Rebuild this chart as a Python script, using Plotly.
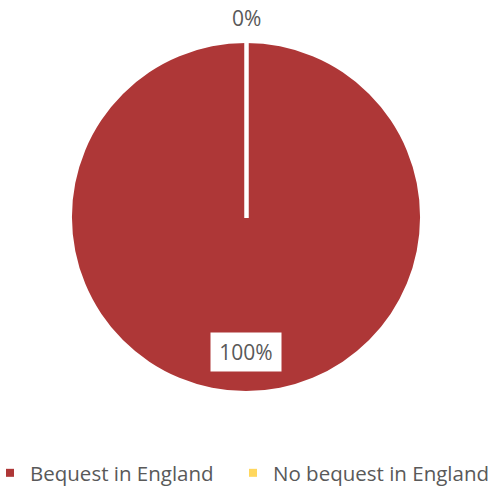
import plotly.graph_objects as go

# Share of estates by bequest destination
categories = ["Bequest in England", "No bequest in England"]
values = [100, 0]
colors = ["#AE3737", "#FFD75E"]

total = sum(values)
percents = [round(v / total * 100) for v in values]

W, H = 493, 486
cx, cy, r = 246, 217, 174  # pie centre and radius in pixels

fig = go.Figure()

fig.add_trace(go.Pie(
    labels=categories,
    values=values,
    marker=dict(colors=colors, line=dict(color="white", width=0)),
    textinfo="none",
    hoverinfo="label+percent",
    sort=False,
    direction="clockwise",
    rotation=0,
    showlegend=False,
    domain=dict(x=[(cx - r) / W, (cx + r) / W],
                y=[(H - cy - r) / H, (H - cy + r) / H]),
))

# one legend per entry so each sits at its own spot along the bottom
legend_ids = ["legend", "legend2"]
for name, col, lg in zip(categories, colors, legend_ids):
    fig.add_trace(go.Scatter(
        x=[None], y=[None], mode="markers", name=name, legend=lg,
        marker=dict(symbol="square", size=8, color=col),
        hoverinfo="skip",
    ))

# slice boundary at twelve o'clock
fig.add_shape(type="line", xref="paper", yref="paper",
              x0=(cx + 0.5) / W, x1=(cx + 0.5) / W,
              y0=(H - cy + r) / H, y1=(H - cy - 1) / H,
              line=dict(color="white", width=4.5))

font_family = "Open Sans, sans-serif"
label_font = dict(family=font_family, size=21, color="#595959")

# outside label for the empty slice, inside label for the full slice
fig.add_annotation(x=cx / W, y=(H - 18) / H, xref="paper", yref="paper",
                   xanchor="center", yanchor="middle",
                   text=f"{percents[1]}%", showarrow=False, font=label_font)
fig.add_annotation(x=cx / W, y=(H - 352) / H, xref="paper", yref="paper",
                   xanchor="center", yanchor="middle",
                   text=f"{percents[0]}%", showarrow=False, font=label_font,
                   bgcolor="white", width=68, height=36)

legend_font = dict(family=font_family, size=20.5, color="#595959")
legend_common = dict(orientation="h", xanchor="left", y=(H - 473) / H,
                     yanchor="middle", font=legend_font,
                     bgcolor="rgba(0,0,0,0)")

fig.update_layout(
    width=W, height=H,
    margin=dict(l=0, r=0, t=0, b=0, autoexpand=False),
    paper_bgcolor="white", plot_bgcolor="white",
    xaxis=dict(visible=False), yaxis=dict(visible=False),
    legend=dict(x=-10 / W, **legend_common),
    legend2=dict(x=233 / W, **legend_common),
)

fig.write_html("out.html")
